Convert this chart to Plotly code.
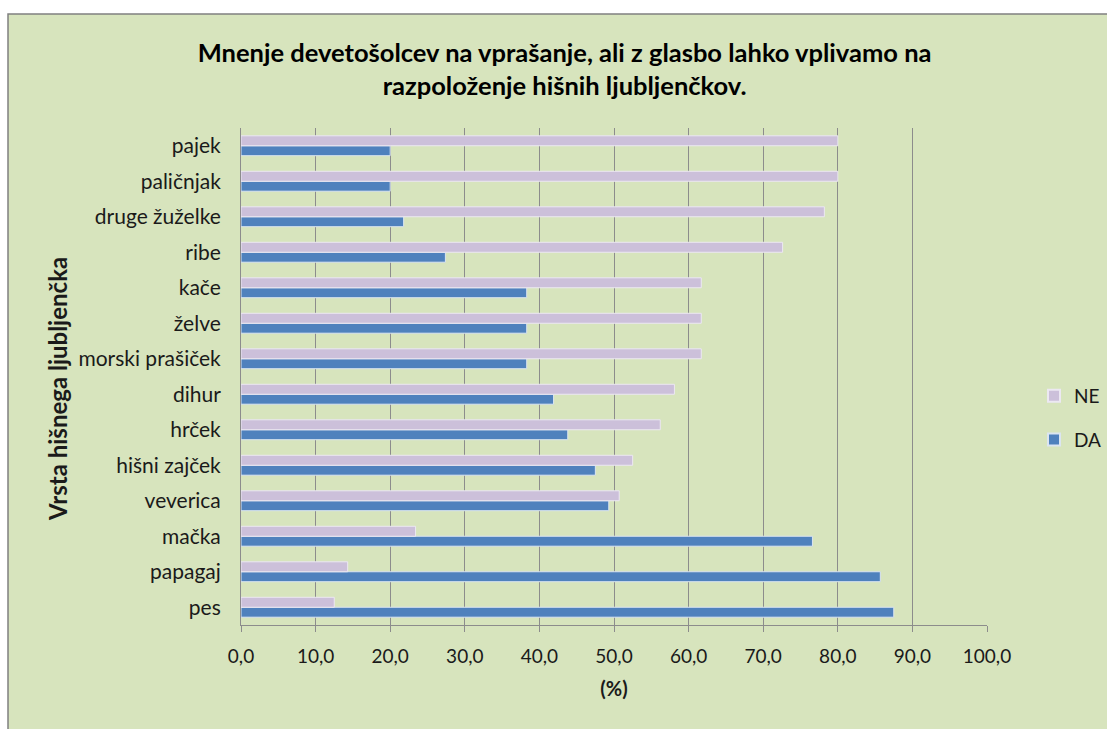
import plotly.graph_objects as go

categories = ["pes", "papagaj", "mačka", "veverica", "hišni zajček", "hrček", "dihur",
              "morski prašiček", "želve", "kače", "ribe", "druge žuželke", "paličnjak", "pajek"]
da_values = [87.5, 85.7, 76.6, 49.3, 47.5, 43.8, 41.9, 38.3, 38.3, 38.3, 27.4, 21.8, 20.0, 20.0]
ne_values = [12.5, 14.3, 23.4, 50.7, 52.5, 56.2, 58.1, 61.7, 61.7, 61.7, 72.6, 78.2, 80.0, 80.0]
x_ticks = [0, 10, 20, 30, 40, 50, 60, 70, 80, 90, 100]

FONT = "Lato, 'Open Sans', sans-serif"
W, H = 1107, 729
L, R, T, B = 241, 120, 128, 104
PW, PH = W - L - R, H - T - B

fig = go.Figure()
fig.add_trace(go.Bar(y=categories, x=da_values, name="DA", orientation="h", legendgroup="da",
                     legendrank=2,
                     marker=dict(color="#4f81bd", line=dict(color="#dbe5f1", width=1))))
fig.add_trace(go.Bar(y=categories, x=ne_values, name="NE", orientation="h", legendgroup="ne",
                     legendrank=1,
                     marker=dict(color="#ccc0da", line=dict(color="#ece8f2", width=1))))

fig.update_layout(
    width=W, height=H,
    margin=dict(l=L, r=R, t=T, b=B, autoexpand=False),
    paper_bgcolor="white",
    plot_bgcolor="white",
    barmode="group",
    bargap=0.44,
    bargroupgap=0,
    separators=", ",
    font=dict(family=FONT, size=19, color="#1a1a1a"),
    title=dict(
        text="<b>Mnenje devetošolcev na vprašanje, ali z glasbo lahko vplivamo na<br>razpoloženje hišnih ljubljenčkov.</b>",
        x=0.51, xanchor="center", y=1 - 62 / H, yanchor="middle",
        font=dict(family=FONT, size=25.5, color="black"),
    ),
    legend=dict(x=(1034 - L) / PW, xanchor="left", y=(H - B - 418) / PH, yanchor="middle",
                traceorder="grouped", bgcolor="rgba(0,0,0,0)",
                font=dict(family=FONT, size=19), itemsizing="constant",
                tracegroupgap=16),
    shapes=[dict(type="rect", xref="paper", yref="paper", layer="below",
                 x0=(8 - L) / PW, x1=(W + 5 - L) / PW,
                 y0=(H - B - H - 5) / PH, y1=(H - B - 14) / PH,
                 fillcolor="#d7e4bd", line=dict(color="#808080", width=1.5))],
    annotations=[dict(text="<b>Vrsta hišnega ljubljenčka</b>", textangle=-90,
                      xref="paper", yref="paper", x=(57 - L) / PW, y=(H - B - 389) / PH,
                      xanchor="center", yanchor="middle", showarrow=False,
                      font=dict(family=FONT, size=24, color="#1a1a1a"))],
)

fig.update_xaxes(
    range=[0, 100], tickvals=x_ticks, tickformat=".1f",
    showgrid=True, gridcolor="#8c8c8c", gridwidth=1,
    showline=True, linecolor="#8c8c8c", linewidth=1,
    ticks="outside", ticklen=6, tickcolor="#8c8c8c",
    zeroline=False, fixedrange=True,
    title=dict(text="<b>(%)</b>", font=dict(family=FONT, size=20), standoff=16),
    ticklabelstandoff=8,
)
fig.update_yaxes(
    categoryorder="array", categoryarray=categories,
    showline=True, linecolor="#8c8c8c", linewidth=1,
    showgrid=False, ticks="", fixedrange=True,
    ticklabelstandoff=15,
    tickfont=dict(family=FONT, size=21),
)

fig.write_html("out.html", config={"displayModeBar": False},
               post_script="document.body.style.margin='0';document.body.style.overflow='hidden';")
